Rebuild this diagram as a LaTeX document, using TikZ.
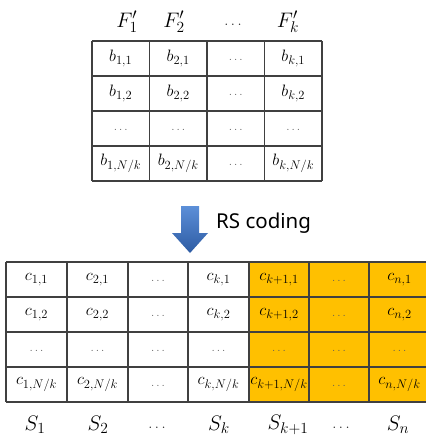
\RequirePackage{fix-cm}
\documentclass[tikz,border=0pt]{standalone}
\usepackage{fontspec}
\newfontfamily\labelfont{Noto Sans}
% larger subscripts relative to the base symbol
\DeclareMathSizes{16.5}{16.5}{12.5}{10}
\DeclareMathSizes{21}{21}{15.5}{12}
\definecolor{parity}{HTML}{FFC000}
\definecolor{gridline}{HTML}{404040}
\definecolor{arrowtop}{HTML}{5C8FD8}
\definecolor{arrowbot}{HTML}{2D5BA3}
\definecolor{dotgray}{HTML}{5A5A5A}
\tikzset{
  cell/.style={inner sep=0pt, font=\fontsize{16.5}{20}\selectfont},
  celldots/.style={inner sep=0pt, text=dotgray, font=\fontsize{12}{14}\selectfont},
  head/.style={inner sep=0pt, font=\fontsize{21}{25}\selectfont},
  headdots/.style={inner sep=0pt, text=black!85, font=\fontsize{15}{18}\selectfont},
  tabline/.style={draw=gridline, line width=1.3pt},
}
\begin{document}
\begin{tikzpicture}[x=1pt,y=-1pt]
\useasboundingbox (0,0) rectangle (426,437);

% ---- source blocks F'_1 ... F'_k ----
\node[head] (f1) at (127,22) {$F_1'$};
\node[head] (f2) at (174,22) {$F_2'$};
\node[headdots] (fd) at (233,25) {$\dots$};
\node[head] (fk) at (288,22) {$F_k'$};

\foreach \y in {41,76,111,146,181}
  \draw[tabline] (92,\y) -- (322,\y);
\foreach \x in {92,149.5,207,264.5,322}
  \draw[tabline] (\x,41) -- (\x,181);

\node[cell] (b11) at (120.75,58.5) {$b_{1,1}$};
\node[cell] (b21) at (178.25,58.5) {$b_{2,1}$};
\node[celldots] (bd1) at (235.75,59.5) {$\dots$};
\node[cell] (bk1) at (293.25,58.5) {$b_{k,1}$};
\node[cell] (b12) at (120.75,93.5) {$b_{1,2}$};
\node[cell] (b22) at (178.25,93.5) {$b_{2,2}$};
\node[celldots] (bd2) at (235.75,94.5) {$\dots$};
\node[cell] (bk2) at (293.25,93.5) {$b_{k,2}$};
\node[celldots] (b1d) at (120.75,129.5) {$\dots$};
\node[celldots] (b2d) at (178.25,129.5) {$\dots$};
\node[celldots] (bdd) at (235.75,129.5) {$\dots$};
\node[celldots] (bkd) at (293.25,129.5) {$\dots$};
\node[cell] (b1n) at (120.75,163.5) {$b_{1,N/k}$};
\node[cell] (b2n) at (178.25,163.5) {$b_{2,N/k}$};
\node[celldots] (bdn) at (235.75,164.5) {$\dots$};
\node[cell] (bkn) at (293.25,163.5) {$b_{k,N/k}$};

% ---- encoding arrow ----
\shade[top color=arrowtop, bottom color=arrowbot]
  (181,206) -- (199,206) -- (199,233) -- (208,233) -- (190,253)
  -- (172,233) -- (181,233) -- cycle;
\node[anchor=west, inner sep=0pt, font=\labelfont\fontsize{20.5}{24}\selectfont] (rs) at (216,223) {RS coding};

% ---- coded blocks on servers S_1 ... S_n ----
\fill[parity] (249,262) rectangle (432,402);
\foreach \y in {262,297,332,367,402}
  \draw[tabline] (6,\y) -- (432,\y);
\foreach \x in {6,67,128,188,249,309,369,430}
  \draw[tabline] (\x,262) -- (\x,402);

\node[cell] (c11) at (36.5,279.5) {$c_{1,1}$};
\node[cell] (c21) at (97.5,279.5) {$c_{2,1}$};
\node[celldots] (cd1) at (158,280.5) {$\dots$};
\node[cell] (ck1) at (218.5,279.5) {$c_{k,1}$};
\node[cell] (cp1) at (279,279.5) {$c_{k+1,1}$};
\node[celldots] (ce1) at (339,280.5) {$\dots$};
\node[cell] (cn1) at (399.5,279.5) {$c_{n,1}$};

\node[cell] (c12) at (36.5,314.5) {$c_{1,2}$};
\node[cell] (c22) at (97.5,314.5) {$c_{2,2}$};
\node[celldots] (cd2) at (158,315.5) {$\dots$};
\node[cell] (ck2) at (218.5,314.5) {$c_{k,2}$};
\node[cell] (cp2) at (279,314.5) {$c_{k+1,2}$};
\node[celldots] (ce2) at (339,315.5) {$\dots$};
\node[cell] (cn2) at (399.5,314.5) {$c_{n,2}$};

\node[celldots] (c1d) at (36.5,350.5) {$\dots$};
\node[celldots] (c2d) at (97.5,350.5) {$\dots$};
\node[celldots] (cdd) at (158,350.5) {$\dots$};
\node[celldots] (ckd) at (218.5,350.5) {$\dots$};
\node[celldots] (cpd) at (279,350.5) {$\dots$};
\node[celldots] (ced) at (339,350.5) {$\dots$};
\node[celldots] (cnd) at (399.5,350.5) {$\dots$};

\node[cell] (c1n) at (36.5,384.5) {$c_{1,N/k}$};
\node[cell] (c2n) at (97.5,384.5) {$c_{2,N/k}$};
\node[celldots] (cdn) at (158,385.5) {$\dots$};
\node[cell] (ckn) at (218.5,384.5) {$c_{k,N/k}$};
\node[cell] (cpn) at (279,384.5) {$c_{k+1,N/k}$};
\node[celldots] (cen) at (339,385.5) {$\dots$};
\node[cell] (cnn) at (399.5,384.5) {$c_{n,N/k}$};

\node[head] (s1) at (35,425) {$S_1$};
\node[head] (s2) at (98,425) {$S_2$};
\node[headdots] (sd) at (157,428) {$\dots$};
\node[head] (sk) at (219,425) {$S_k$};
\node[head] (sp) at (288,425) {$S_{k+1}$};
\node[headdots] (se) at (341,428) {$\dots$};
\node[head] (sn) at (398,425) {$S_n$};
\end{tikzpicture}
\end{document}
